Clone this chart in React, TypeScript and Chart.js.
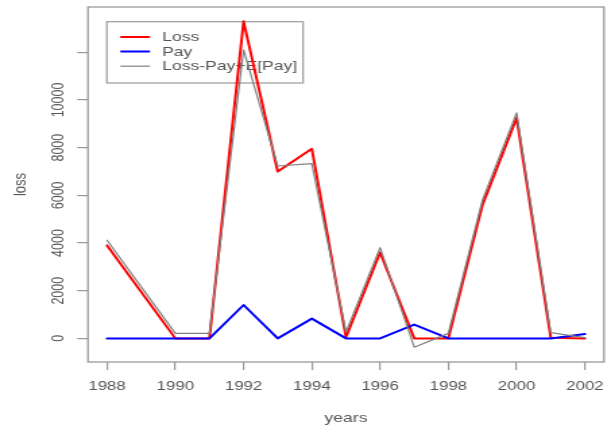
import { useEffect, useRef } from "react";
import { Chart, registerables } from "chart.js";

Chart.register(...registerables);

// ---- data ----
const years = [1988, 1990, 1991, 1992, 1993, 1994, 1995, 1996, 1997, 1998, 1999, 2000, 2001, 2002];
const lossValues = [3900, 0, 0, 13300, 7000, 7950, 50, 3600, 0, 0, 5600, 9250, 30, 0];
const payValues = [0, 0, 0, 1400, 0, 830, 0, 0, 580, 0, 0, 0, 0, 180];
const adjustedValues = [4120, 210, 210, 12100, 7230, 7330, 260, 3810, -370, 210, 5810, 9460, 240, 30];
const seriesNames = ["Loss", "Pay", "Loss-Pay+E[Pay]"];
const seriesColors = ["#ff0000", "#0000ff", "#808080"];
const xTickValues = [1988, 1990, 1992, 1994, 1996, 1998, 2000, 2002];
const xTickLabels = ["1988", "1990", "1992", "1994", "1996", "1998", "2000", "2002"];
const yTickValues = [0, 2000, 4000, 6000, 8000, 10000, 12000];
const yTickLabels = ["0", "2000", "4000", "6000", "8000", "10000", ""];
const xTitle = "years";
const yTitle = "loss";

// internal canvas is drawn narrower and stretched horizontally (like the reference)
const CANVAS_W = 453;
const CANVAS_H = 427;
const TEXT_COLOR = "#555555";
const AXIS_COLOR = "#9a9a9a";
const TICK_FONT = "12.5px 'Liberation Sans', Arial, sans-serif";
const LEGEND_FONT = "13px 'Liberation Sans', Arial, sans-serif";

const overlayPlugin = {
  id: "rOverlay",
  beforeDatasetsDraw(chart: any) {
    // legend (top-left inside the plot), drawn beneath the lines as in the reference
    const { ctx, chartArea: ca } = chart;
    ctx.save();
    const lx = ca.left + 14;
    const ly = ca.top + 14.7;
    const lw = 145.5;
    const lh = 61.3;
    ctx.strokeStyle = AXIS_COLOR;
    ctx.lineWidth = 1.2;
    ctx.strokeRect(lx, ly, lw, lh);
    ctx.font = LEGEND_FONT;
    ctx.textBaseline = "middle";
    const rowYs = [ly + 15.3, ly + 29.8, ly + 44.5];
    chart.data.datasets.forEach((ds: any, i: number) => {
      ctx.strokeStyle = ds.borderColor;
      ctx.lineWidth = ds.borderWidth;
      ctx.beginPath();
      ctx.moveTo(lx + 10, rowYs[i]);
      ctx.lineTo(lx + 32, rowYs[i]);
      ctx.stroke();
      ctx.fillStyle = TEXT_COLOR;
      ctx.textAlign = "left";
      ctx.fillText(ds.label, lx + 41, rowYs[i] + 0.5);
    });
    ctx.restore();
  },
  afterDraw(chart: any) {
    const { ctx, chartArea: ca, scales } = chart;
    ctx.save();
    // plot box
    ctx.strokeStyle = AXIS_COLOR;
    ctx.lineWidth = 1.3;
    ctx.strokeRect(ca.left, ca.top, ca.right - ca.left, ca.bottom - ca.top);

    ctx.fillStyle = TEXT_COLOR;
    ctx.font = TICK_FONT;
    ctx.textAlign = "center";
    ctx.textBaseline = "middle";
    // x tick labels
    xTickValues.forEach((v, i) => {
      ctx.fillText(xTickLabels[i], scales.x.getPixelForValue(v), ca.bottom + 25);
    });
    // y tick labels (rotated like R's las=0)
    yTickValues.forEach((v, i) => {
      if (!yTickLabels[i]) return;
      ctx.save();
      ctx.translate(ca.left - 22, scales.y.getPixelForValue(v));
      ctx.rotate(-Math.PI / 2);
      ctx.fillText(yTickLabels[i], 0, 0);
      ctx.restore();
    });
    // axis titles
    ctx.font = LEGEND_FONT;
    ctx.fillText(xTitle, (ca.left + ca.right) / 2, ca.bottom + 56);
    ctx.save();
    ctx.translate(ca.left - 49.5, (ca.top + ca.bottom) / 2);
    ctx.rotate(-Math.PI / 2);
    ctx.fillText(yTitle, 0, 0);
    ctx.restore();
    ctx.restore();
  },
};

export default function App() {
  const canvasRef = useRef<HTMLCanvasElement | null>(null);

  useEffect(() => {
    const canvas = canvasRef.current;
    if (!canvas) return;
    const toPoints = (vals: number[]) => years.map((yr, i) => ({ x: yr, y: vals[i] }));
    const seriesValues = [lossValues, payValues, adjustedValues];
    const widths = [2, 2, 1.2];
    const orders = [3, 2, 1];
    const chart = new Chart(canvas, {
      type: "line",
      data: {
        datasets: seriesNames.map((name, i) => ({
          label: name,
          data: toPoints(seriesValues[i]),
          borderColor: seriesColors[i],
          backgroundColor: seriesColors[i],
          borderWidth: widths[i],
          borderJoinStyle: "round",
          borderCapStyle: "round",
          pointRadius: 0,
          tension: 0,
          fill: false,
          order: orders[i],
        })),
      },
      options: {
        animation: false,
        responsive: false,
        events: [],
        layout: { padding: { top: 7, right: 5.2, bottom: 0, left: 0 } },
        plugins: { legend: { display: false }, tooltip: { enabled: false }, title: { display: false } },
        scales: {
          x: {
            type: "linear",
            min: 1987.44,
            max: 2002.56,
            afterBuildTicks: (s: any) => {
              s.ticks = xTickValues.map((v) => ({ value: v }));
            },
            afterFit: (s: any) => {
              s.height = 65;
            },
            ticks: { display: false },
            grid: { drawOnChartArea: false, drawTicks: true, tickLength: 8, color: AXIS_COLOR, lineWidth: 1.2 },
            border: { display: false },
          },
          y: {
            type: "linear",
            min: -990,
            max: 13900,
            afterBuildTicks: (s: any) => {
              s.ticks = yTickValues.map((v) => ({ value: v }));
            },
            afterFit: (s: any) => {
              s.width = 65.2;
            },
            ticks: { display: false },
            grid: { drawOnChartArea: false, drawTicks: true, tickLength: 8, color: AXIS_COLOR, lineWidth: 1.2 },
            border: { display: false },
          },
        },
      },
      plugins: [overlayPlugin],
    });
    return () => chart.destroy();
  }, []);

  return (
    <div style={{ position: "absolute", left: 0, top: 0, width: 611, height: 427, background: "#ffffff" }}>
      <canvas
        ref={canvasRef}
        width={CANVAS_W}
        height={CANVAS_H}
        style={{ width: "611px", height: "427px", display: "block" }}
      />
    </div>
  );
}
